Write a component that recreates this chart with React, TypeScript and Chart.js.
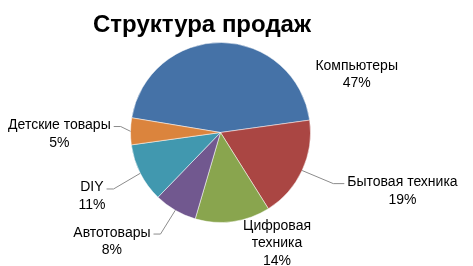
import React, { useEffect, useRef } from "react";
import { Chart, registerables } from "chart.js";

Chart.register(...registerables);

const title = "Структура продаж";
const categories = ["Компьютеры", "Бытовая техника", "Цифровая техника", "Автотовары", "DIY", "Детские товары"];
const values = [47, 19, 14, 8, 11, 5];
const valueLabels = ["47%", "19%", "14%", "8%", "11%", "5%"];
const colors = ["#4572A7", "#AA4643", "#89A54E", "#71588F", "#4198AF", "#DB843D"];
// label placement (degrees clockwise from top, distance in radii), line breaks, leader lines
const labelAngle = [66.5, 107.5, 152.7, 225.2, 244, 269.9];
const labelDist = [1.65, 2.12, 1.37, 1.7, 1.59, 1.79];
const labelWrap = [false, false, true, false, false, false];
const labelLeader = [false, true, false, true, true, true];

const FONT = '"Liberation Sans", Arial, sans-serif';

const labelPlugin = {
  id: "pieLabels",
  afterDatasetsDraw(chart: any) {
    const ctx = chart.ctx;
    const meta = chart.getDatasetMeta(0);
    ctx.save();
    // title
    ctx.font = `bold 24px ${FONT}`;
    ctx.fillStyle = "#000";
    ctx.textAlign = "center";
    ctx.textBaseline = "alphabetic";
    ctx.fillText(title, 202, 31.5);

    ctx.font = `14px ${FONT}`;
    const lh = 17.5;
    meta.data.forEach((arc: any, i: number) => {
      const p = arc.getProps(["x", "y", "startAngle", "endAngle", "outerRadius"], true);
      const r = p.outerRadius;
      const ca = ((labelAngle[i] - 90) * Math.PI) / 180;
      const lx = p.x + Math.cos(ca) * labelDist[i] * r;
      const ly = p.y + Math.sin(ca) * labelDist[i] * r;
      const name = categories[i];
      const lines = labelWrap[i] ? name.split(" ") : [name];
      lines.push(valueLabels[i]);
      const top = ly - ((lines.length - 1) * lh) / 2;
      ctx.fillStyle = "#000";
      ctx.textAlign = "center";
      lines.forEach((t: string, k: number) => {
        ctx.fillText(t, lx, top + k * lh + 5);
      });
      if (labelLeader[i]) {
        const w = ctx.measureText(lines[0]).width;
        const mid = (p.startAngle + p.endAngle) / 2;
        const ax = p.x + Math.cos(mid) * r;
        const ay = p.y + Math.sin(mid) * r;
        const left = lx < p.x;
        const sx = left ? lx + w / 2 + 3 : lx - w / 2 - 3;
        const sy = top + 2.5;
        const hx = left ? sx + 7 : sx - 11;
        ctx.strokeStyle = "#8C8C8C";
        ctx.lineWidth = 1;
        ctx.beginPath();
        ctx.moveTo(sx, sy);
        ctx.lineTo(hx, sy);
        ctx.lineTo(ax, ay);
        ctx.stroke();
      }
    });
    ctx.restore();
  },
};

export default function App() {
  const ref = useRef<HTMLCanvasElement | null>(null);
  useEffect(() => {
    if (!ref.current) return;
    const chart = new Chart(ref.current, {
      type: "pie",
      data: {
        labels: categories,
        datasets: [
          {
            data: values,
            backgroundColor: colors,
            borderColor: "rgba(255,255,255,0.5)",
            borderWidth: 1,
          },
        ],
      },
      options: {
        animation: false,
        responsive: true,
        maintainAspectRatio: false,
        rotation: -80.6,
        layout: { padding: { top: 42, bottom: 43, left: 130, right: 162 } },
        plugins: {
          legend: { display: false },
          title: { display: false },
          tooltip: { enabled: false },
        },
      },
      plugins: [labelPlugin],
    });
    return () => chart.destroy();
  }, []);
  return (
    <div style={{ position: "fixed", left: 0, top: 0, width: 473, height: 266, background: "#fff" }}>
      <canvas ref={ref} />
    </div>
  );
}
